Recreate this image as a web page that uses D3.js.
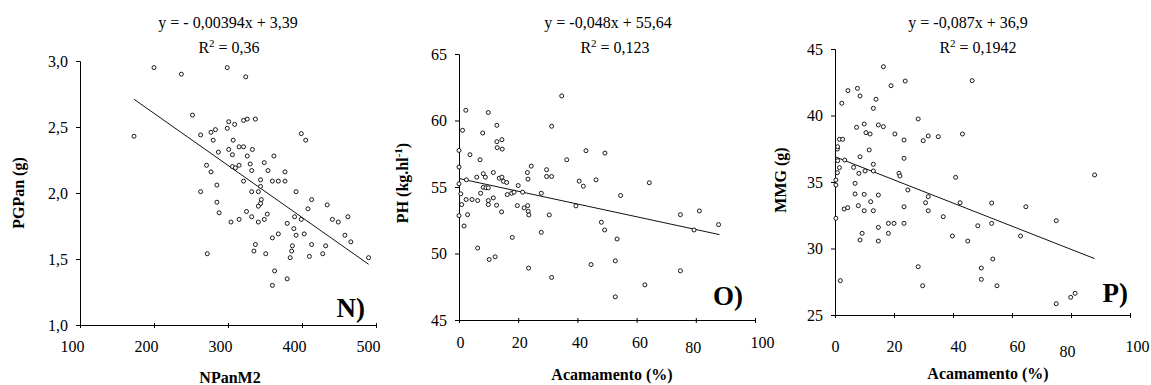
<!DOCTYPE html>
<html>
<head>
<meta charset="utf-8">
<script src="https://cdn.jsdelivr.net/npm/d3@7"></script>
<style>
  body { margin: 0; background: #fff; }
  svg { display: block; font-family: "Liberation Serif", "Times New Roman", serif; }
</style>
</head>
<body>
<div id="chart"></div>
<script>
// N) PGPan (g) vs NPanM2
const nX = [173,200,237,252,299,324,301,309,321,326,337,299,277,283,263,280,307,315,321,333,287,301,306,326,362,399,405,271,277,306,310,315,330,332,349,354,377,321,344,344,360,368,377,285,263,332,341,392,345,344,413,285,341,408,434,288,325,332,353,349,390,304,315,341,399,441,449,462,380,389,392,368,360,403,337,335,351,387,386,384,413,410,428,432,458,466,490,272,363,360,380];
const nY = [2.43,2.95,2.90,2.59,2.95,2.88,2.54,2.52,2.55,2.56,2.56,2.49,2.46,2.48,2.44,2.40,2.40,2.35,2.35,2.33,2.31,2.33,2.29,2.28,2.28,2.45,2.40,2.21,2.16,2.20,2.19,2.21,2.22,2.17,2.23,2.17,2.16,2.09,2.10,2.05,2.09,2.09,2.09,2.06,2.01,2.01,2.01,2.01,1.95,1.92,1.95,1.93,1.90,1.88,1.91,1.85,1.86,1.82,1.84,1.80,1.82,1.78,1.80,1.78,1.80,1.80,1.78,1.82,1.77,1.73,1.68,1.69,1.66,1.69,1.61,1.56,1.54,1.60,1.56,1.51,1.61,1.52,1.54,1.60,1.68,1.63,1.51,1.54,1.41,1.30,1.35];
const nTrendX = [173, 490];
const nTrendY = [2.71, 1.46];
const nXTicks = [100, 200, 300, 400, 500];
const nYTicks = [1.0, 1.5, 2.0, 2.5, 3.0];

// O) PH (kg.hl-1) vs Acamamento (%)
const oX = [2.3,1.2,0,0,0,0.6,0.9,0,1.7,2.5,3.7,2.4,4.4,2.9,6.3,6.3,6.0,7.1,8.0,8.2,8.9,7.3,8.2,9.1,9.9,9.9,9.9,9.9,10.2,12.2,11.6,11.6,12.8,12.8,12.9,12.7,13.6,14.5,14.6,14.5,14.4,15.0,16.1,16.3,18.0,17.8,18.6,20.0,19.7,21.5,22.0,23.1,23.3,24.4,23.2,23.4,23.6,23.5,27.8,27.8,29.6,29.6,31.3,31.3,30.5,31.3,34.7,36.4,39.5,42.9,49.3,40.6,42.0,46.3,54.6,64.3,48.1,49.2,53.4,44.6,52.8,52.8,62.8,74.8,81.2,79.4,87.7,74.8];
const oY = [60.77,59.26,57.75,56.5,55.24,54.49,53.68,52.85,52.07,55.54,57.43,54.06,54.06,52.92,50.41,53.98,55.74,57.05,59.06,56.0,55.74,54.53,54.98,54.94,53.98,53.68,54.94,60.6,49.55,49.75,56.09,54.18,59.64,58.41,57.96,53.63,55.66,58.56,57.85,55.74,53.13,55.43,55.34,54.43,51.21,54.53,54.61,55.11,53.6,54.61,53.43,56.09,55.59,56.57,53.6,53.17,52.9,48.9,54.53,51.59,56.3,55.79,55.79,59.57,52.9,48.2,61.85,57.05,53.58,57.73,57.55,55.44,55.06,55.54,54.36,55.32,52.35,51.77,51.09,49.17,49.45,46.74,47.64,52.92,53.2,51.77,52.17,48.7];
const oTrendX = [0, 88];
const oTrendY = [55.64, 51.42];
const oXTicks = [0, 20, 40, 60, 80, 100];
const oYTicks = [45, 50, 55, 60, 65];

// P) MMG (g) vs Acamamento (%)
const pX = [0.3,0.3,0.3,0.8,0.9,0.8,0.9,1.5,1.5,2.6,2.3,1.8,3.3,3.1,4.3,4.4,6.3,6.8,6.8,7.3,7.6,8.5,8.1,8.5,7.9,8.5,9.2,9.9,10.5,10.2,9.9,9.9,11.9,11.6,12.1,13.0,13.9,13.0,13.0,13.0,14.7,16.4,14.7,14.7,14.7,16.4,18.1,20.0,18.1,19.0,20.3,21.7,22.0,23.8,23.4,23.4,23.4,23.4,24.7,28.2,29.9,31.6,28.2,29.7,30.7,31.6,31.6,35.0,36.7,46.5,43.2,40.9,42.4,39.8,45.0,48.4,53.1,53.1,53.5,49.6,49.6,54.9,64.7,62.9,75.0,75.0,79.9,81.4,88.0];
const pY = [32.27,34.77,35.15,35.7,36.6,37.48,37.65,38.21,36.08,38.21,40.92,27.58,36.65,32.97,33.07,41.87,36.1,34.9,34.1,39.11,42.04,41.47,35.65,36.9,33.22,30.64,31.14,39.36,38.71,35.83,34.07,32.84,38.61,37.41,33.52,40.54,41.22,36.33,35.83,32.84,39.29,39.16,34.02,31.59,30.56,43.67,31.89,31.89,31.14,42.24,38.61,35.65,35.45,42.59,38.16,36.78,33.14,31.89,34.4,39.74,38.11,38.46,28.63,27.2,33.44,33.9,32.84,38.41,32.39,42.62,38.61,35.35,33.44,30.94,30.56,31.71,33.42,31.89,29.21,28.53,27.68,27.2,33.14,30.94,32.09,25.85,26.33,26.63,35.53];
const pTrendX = [0, 88];
const pTrendY = [36.9, 29.24];
const pXTicks = [0, 20, 40, 60, 80, 100];
const pYTicks = [25, 30, 35, 40, 45];

// number formats with decimal comma
const fmtComma1 = d => d3.format(".1f")(d).replace(".", ",");
const fmtInt = d3.format("d");

// layout of the three panels (pixels)
const panels = [
  { xs: nX, ys: nY, tx: nTrendX, ty: nTrendY, xTicks: nXTicks, yTicks: nYTicks,
    xDomain: [100, 500], yDomain: [1, 3], left: 80, right: 376, top: 61, bottom: 325,
    yFmt: fmtComma1, xLabelY: 27, xLabelDx: [-8, -8, -8, -8, -8, -8], xLabelDy: [0, 0, 0, 0, 0],
    xTitle: "NPanM2", xTitleX: 230, xTitleY: 383,
    yTitle: [{ t: "PGPan (g)" }], yTitleX: 24, yTitleY: 193,
    eq: "y = - 0,00394x + 3,39", eqX: 228, r2: " = 0,36", r2X: 229,
    tag: "N)", tagX: 365, tagY: 317 },
  { xs: oX, ys: oY, tx: oTrendX, ty: oTrendY, xTicks: oXTicks, yTicks: oYTicks,
    xDomain: [0, 100], yDomain: [45, 65], left: 459, right: 755, top: 54, bottom: 320,
    yFmt: fmtInt, xLabelY: 28, xLabelDx: [1, 1, 2, 3, -3, 7], xLabelDy: [0, 0, 0, 0, 5, 0],
    xTitle: "Acamamento (%)", xTitleX: 612, xTitleY: 380,
    yTitle: [{ t: "PH (kg.hl" }, { t: "-1", sup: true }, { t: ")" }], yTitleX: 408, yTitleY: 183,
    eq: "y = -0,048x + 55,64", eqX: 608, r2: " = 0,123", r2X: 615,
    tag: "O)", tagX: 743, tagY: 305 },
  { xs: pX, ys: pY, tx: pTrendX, ty: pTrendY, xTicks: pXTicks, yTicks: pYTicks,
    xDomain: [0, 100], yDomain: [25, 45], left: 835, right: 1130, top: 49, bottom: 315,
    yFmt: fmtInt, xLabelY: 37, xLabelDx: [0, 0, 5, 5, -4, 7], xLabelDy: [0, 0, 0, 0, 5, 0],
    xTitle: "Acamamento (%)", xTitleX: 988, xTitleY: 379,
    yTitle: [{ t: "MMG (g)" }], yTitleX: 786, yTitleY: 180,
    eq: "y = -0,087x + 36,9", eqX: 968, r2: " = 0,1942", r2X: 978,
    tag: "P)", tagX: 1128, tagY: 302 }
];

// Create the SVG container.
const svg = d3.select("#chart")
  .append("svg")
  .attr("width", 1151)
  .attr("height", 385);

function drawPanel(p) {
  const x = d3.scaleLinear().domain(p.xDomain).range([p.left, p.right]);
  const y = d3.scaleLinear().domain(p.yDomain).range([p.bottom, p.top]);
  const g = svg.append("g");

  // Add the y-axis.
  const yAxis = g.append("g")
    .attr("transform", `translate(${p.left},0)`)
    .call(d3.axisLeft(y).tickValues(p.yTicks).tickFormat(p.yFmt)
      .tickSize(4).tickSizeOuter(4).tickPadding(8));

  // Add the x-axis.
  const xAxis = g.append("g")
    .attr("transform", `translate(0,${p.bottom})`)
    .call(d3.axisBottom(x).tickValues(p.xTicks).tickFormat(fmtInt)
      .tickSize(3).tickSizeOuter(0));
  xAxis.selectAll(".tick line").attr("y1", -2);
  xAxis.selectAll(".tick text")
    .attr("y", p.xLabelY)
    .attr("dy", 0)
    .attr("dx", (d, i) => p.xLabelDx[i] || 0)
    .attr("transform", (d, i) => `translate(0,${p.xLabelDy[i] || 0})`);

  [yAxis, xAxis].forEach(a => {
    a.selectAll("path, line").attr("stroke", "#000").attr("stroke-width", 1);
    a.selectAll("text")
      .attr("fill", "#000")
      .style("font-family", "'Liberation Serif', 'Times New Roman', serif")
      .style("font-size", "16px");
  });

  // trend line
  const line = d3.line().x(d => x(d[0])).y(d => y(d[1]));
  g.append("path")
    .datum(d3.zip(p.tx, p.ty))
    .attr("fill", "none")
    .attr("stroke", "#111")
    .attr("stroke-width", 1)
    .attr("d", line);

  // points
  g.selectAll("circle")
    .data(d3.zip(p.xs, p.ys))
    .enter()
    .append("circle")
    .attr("cx", d => x(d[0]))
    .attr("cy", d => y(d[1]))
    .attr("r", 2)
    .attr("fill", "#fff")
    .attr("stroke", "#000")
    .attr("stroke-width", 0.9);

  // equation and R2
  g.append("text")
    .attr("x", p.eqX).attr("y", 28)
    .attr("text-anchor", "middle")
    .style("font-size", "16px")
    .text(p.eq);
  const r2 = g.append("text")
    .attr("x", p.r2X).attr("y", 53)
    .attr("text-anchor", "middle")
    .style("font-size", "16px");
  r2.append("tspan").text("R");
  r2.append("tspan").attr("dy", -6).style("font-size", "11px").text("2");
  r2.append("tspan").attr("dy", 6).text(p.r2);

  // axis titles
  g.append("text")
    .attr("x", p.xTitleX).attr("y", p.xTitleY)
    .attr("text-anchor", "middle")
    .style("font-size", "16px")
    .style("font-weight", "bold")
    .text(p.xTitle);

  const yt = g.append("text")
    .attr("transform", `translate(${p.yTitleX},${p.yTitleY}) rotate(-90)`)
    .attr("text-anchor", "middle")
    .style("font-size", "16px")
    .style("font-weight", "bold");
  let shifted = false;
  p.yTitle.forEach(s => {
    const t = yt.append("tspan").text(s.t);
    if (s.sup) { t.attr("dy", -6).style("font-size", "11px"); shifted = true; }
    else if (shifted) { t.attr("dy", 6); shifted = false; }
  });

  // panel letter
  g.append("text")
    .attr("x", p.tagX).attr("y", p.tagY)
    .attr("text-anchor", "end")
    .style("font-size", "27px")
    .style("font-weight", "bold")
    .text(p.tag);
}

panels.forEach(drawPanel);
</script>
</body>
</html>
